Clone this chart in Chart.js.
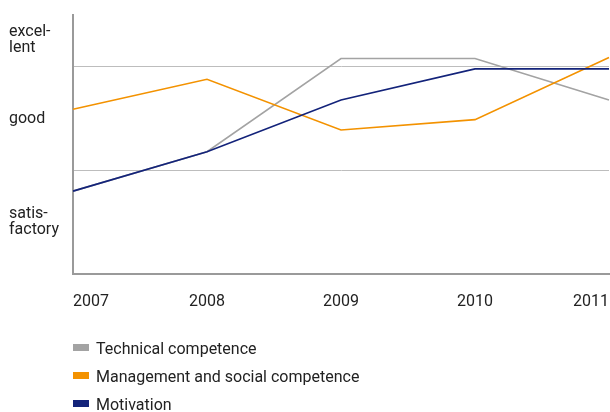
<!DOCTYPE html>
<html>
<head>
<meta charset="utf-8">
<script src="https://cdn.jsdelivr.net/npm/chart.js@4.4.0/dist/chart.umd.min.js"></script>
<style>
  html, body { margin: 0; padding: 0; background: #fff; }
  .wrap { position: relative; width: 610px; height: 412px; }
  .legend { position: absolute; left: 73px; top: 338px; font-family: Roboto, sans-serif; font-size: 16px; color: #222; }
  .legend div { height: 28px; line-height: 22px; }
  .legend span { display: inline-block; width: 16px; height: 7px; margin-right: 7px; vertical-align: 3px; }
</style>
</head>
<body>
<div class="wrap">
  <canvas id="myChart" width="610" height="412"></canvas>
  <div class="legend" id="legend"></div>
</div>
<script>
const years = ['2007', '2008', '2009', '2010', '2011'];

// ratings: 0 = bottom of scale, 1 and 2 are the band borders
const technical = [0.80, 1.18, 2.08, 2.08, 1.68];
const management = [1.59, 1.88, 1.39, 1.49, 2.09];
const motivation = [0.80, 1.18, 1.68, 1.98, 1.98];

const ratingLabels = [['satis-', 'factory'], 'good', ['excel-', 'lent']];
const ratingLevels = [0.5, 1.5, 2.26];
const gridLevels = [1, 2];

const seriesNames = ['Technical competence', 'Management and social competence', 'Motivation'];
const seriesColors = ['#a3a3a3', '#f39200', '#13237a'];

const ctx = document.getElementById('myChart').getContext('2d');
const myChart = new Chart(ctx, {
  type: 'line',
  data: {
    labels: years,
    datasets: [
      { label: seriesNames[0], data: technical, borderColor: seriesColors[0], order: 3 },
      { label: seriesNames[1], data: management, borderColor: seriesColors[1], order: 2 },
      { label: seriesNames[2], data: motivation, borderColor: seriesColors[2], order: 1 }
    ]
  },
  options: {
    responsive: false,
    animation: false,
    layout: { padding: { left: 9, top: 15, right: 1 } },
    elements: {
      line: { borderWidth: 1.6, tension: 0 },
      point: { radius: 0 }
    },
    plugins: { legend: { display: false }, tooltip: { enabled: false } },
    scales: {
      x: {
        grid: { display: false },
        border: { color: '#9a9a9a', width: 2 },
        ticks: {
          align: 'inner',
          padding: 10,
          maxRotation: 0,
          color: '#222',
          font: { family: 'Roboto', size: 16 }
        },
        afterFit: scale => {
          scale.height = 138;
          // labels are aligned inside, no room needed at the ends
          scale.paddingLeft = 0;
          scale.paddingRight = 0;
        }
      },
      y: {
        min: 0,
        max: 2.5,
        border: { color: '#9a9a9a', width: 2 },
        grid: {
          tickLength: 0,
          color: c => gridLevels.includes(c.tick.value) ? '#bdbdbd' : 'rgba(0,0,0,0)',
          lineWidth: 1
        },
        afterBuildTicks: scale => {
          scale.ticks = ratingLevels.concat(gridLevels).map(v => ({ value: v }));
        },
        ticks: {
          crossAlign: 'far',
          color: '#222',
          font: { family: 'Roboto', size: 16, lineHeight: 1.0 },
          callback: value => {
            const i = ratingLevels.indexOf(value);
            return i >= 0 ? ratingLabels[i] : '';
          }
        },
        afterFit: scale => { scale.width = 64; }
      }
    }
  }
});

// legend under the chart
const legend = document.getElementById('legend');
seriesNames.forEach((name, i) => {
  const row = document.createElement('div');
  row.innerHTML = '<span style="background:' + seriesColors[i] + '"></span>' + name;
  legend.appendChild(row);
});
</script>
</body>
</html>
